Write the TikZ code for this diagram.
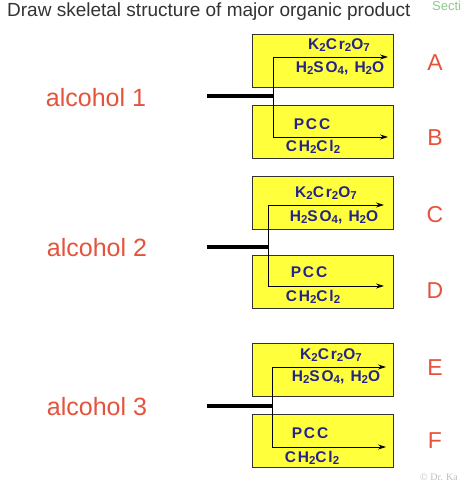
\documentclass[tikz,border=0pt]{standalone}
\usepackage{fontspec}
\setmainfont{Liberation Sans}
\newfontfamily\reagfont[LetterSpace=12]{Liberation Sans}
\newfontfamily\wmfont{Liberation Serif}
\usetikzlibrary{arrows.meta}
\definecolor{boxyellow}{HTML}{FFFF3C}
\definecolor{reagblue}{HTML}{24248A}
\definecolor{labred}{HTML}{E5533C}
\definecolor{titlegray}{HTML}{333333}
\definecolor{secgreen}{HTML}{8CCB8C}
\newcommand{\sbs}[1]{\raisebox{-0.28ex}{\fontsize{11.5}{12}\selectfont #1}}
\tikzset{
  condbox/.style={draw=black!80, line width=0.9pt, fill=boxyellow, minimum width=141pt, minimum height=53pt, inner sep=0pt},
  reag/.style={text=reagblue, font=\reagfont\bfseries\fontsize{15.5}{17}\selectfont, inner sep=0pt},
  prodlab/.style={text=labred, font=\fontsize{23}{26}\selectfont, inner sep=0pt},
  alclab/.style={text=labred, font=\fontsize{25}{28}\selectfont, inner sep=0pt},
  bar/.style={line width=3.2pt},
  rxn/.style={line width=0.8pt},
  rxnarrow/.style={line width=0.8pt, -{Stealth[length=8pt,width=5pt]}}
}
\begin{document}
\begin{tikzpicture}[x=1pt, y=-1pt]
\useasboundingbox[fill=white] (0,0) rectangle (474,482);
\node[anchor=west, text=titlegray, font=\fontsize{19}{22}\selectfont, inner sep=0pt] (title) at (7,12) {Draw skeletal structure of major organic product};
\node[anchor=base west, text=secgreen, font=\fontsize{13}{15}\selectfont, inner sep=0pt] (sec) at (432,10) {Secti};
\node[anchor=west, text=black!25, font=\wmfont\fontsize{10}{12}\selectfont, inner sep=0pt] (wm) at (420,477) {© Dr. Ka};

% group 1
\node[condbox] (b1) at (322.5,60.5) {};
\node[condbox] (b2) at (322.5,131.5) {};
\node[reag] (t1a) at (339,45) {K\sbs{2}Cr\sbs{2}O\sbs{7}};
\node[reag] (t1b) at (340,68) {H\sbs{2}SO\sbs{4}, H\sbs{2}O};
\node[reag] (t2a) at (312,124) {PCC};
\node[reag] (t2b) at (313,147) {CH\sbs{2}Cl\sbs{2}};
\node[alclab] (al1) at (96,98) {alcohol 1};
\node[prodlab] (pA) at (435,63) {A};
\node[prodlab] (pB) at (435,138) {B};
\coordinate (s1) at (207,96);
\coordinate (j1) at (273,96);
\coordinate (u1) at (273,57);
\coordinate (d1) at (273,137);
\coordinate (e1) at (388,57);
\coordinate (f1) at (388,137);
\draw[bar] (s1) -- (j1);
\draw[rxn] (u1) -- (d1);
\draw[rxnarrow] (u1) -- (e1);
\draw[rxnarrow] (d1) -- (f1);

% group 2
\node[condbox] (b3) at (322.5,202.5) {};
\node[condbox] (b4) at (322.5,281.5) {};
\node[reag] (t3a) at (326,193) {K\sbs{2}Cr\sbs{2}O\sbs{7}};
\node[reag] (t3b) at (334,217) {H\sbs{2}SO\sbs{4}, H\sbs{2}O};
\node[reag] (t4a) at (309,272) {PCC};
\node[reag] (t4b) at (313,297) {CH\sbs{2}Cl\sbs{2}};
\node[alclab] (al2) at (97,248) {alcohol 2};
\node[prodlab] (pC) at (435,215) {C};
\node[prodlab] (pD) at (435,291) {D};
\coordinate (s2) at (207,247);
\coordinate (j2) at (268,247);
\coordinate (u2) at (268,205);
\coordinate (d2) at (268,286);
\coordinate (e2) at (384,205);
\coordinate (f2) at (384,286);
\draw[bar] (s2) -- (j2);
\draw[rxn] (u2) -- (d2);
\draw[rxnarrow] (u2) -- (e2);
\draw[rxnarrow] (d2) -- (f2);

% group 3
\node[condbox] (b5) at (322.5,370) {};
\node[condbox] (b6) at (322.5,440.5) {};
\node[reag] (t5a) at (331,355) {K\sbs{2}Cr\sbs{2}O\sbs{7}};
\node[reag] (t5b) at (336,377) {H\sbs{2}SO\sbs{4}, H\sbs{2}O};
\node[reag] (t6a) at (310,433) {PCC};
\node[reag] (t6b) at (312,458) {CH\sbs{2}Cl\sbs{2}};
\node[alclab] (al3) at (97,407) {alcohol 3};
\node[prodlab] (pE) at (435,368) {E};
\node[prodlab] (pF) at (435,441) {F};
\coordinate (s3) at (207,406);
\coordinate (j3) at (272,406);
\coordinate (u3) at (272,367);
\coordinate (d3) at (272,447);
\coordinate (e3) at (386,367);
\coordinate (f3) at (386,447);
\draw[bar] (s3) -- (j3);
\draw[rxn] (u3) -- (d3);
\draw[rxnarrow] (u3) -- (e3);
\draw[rxnarrow] (d3) -- (f3);
\end{tikzpicture}
\end{document}
